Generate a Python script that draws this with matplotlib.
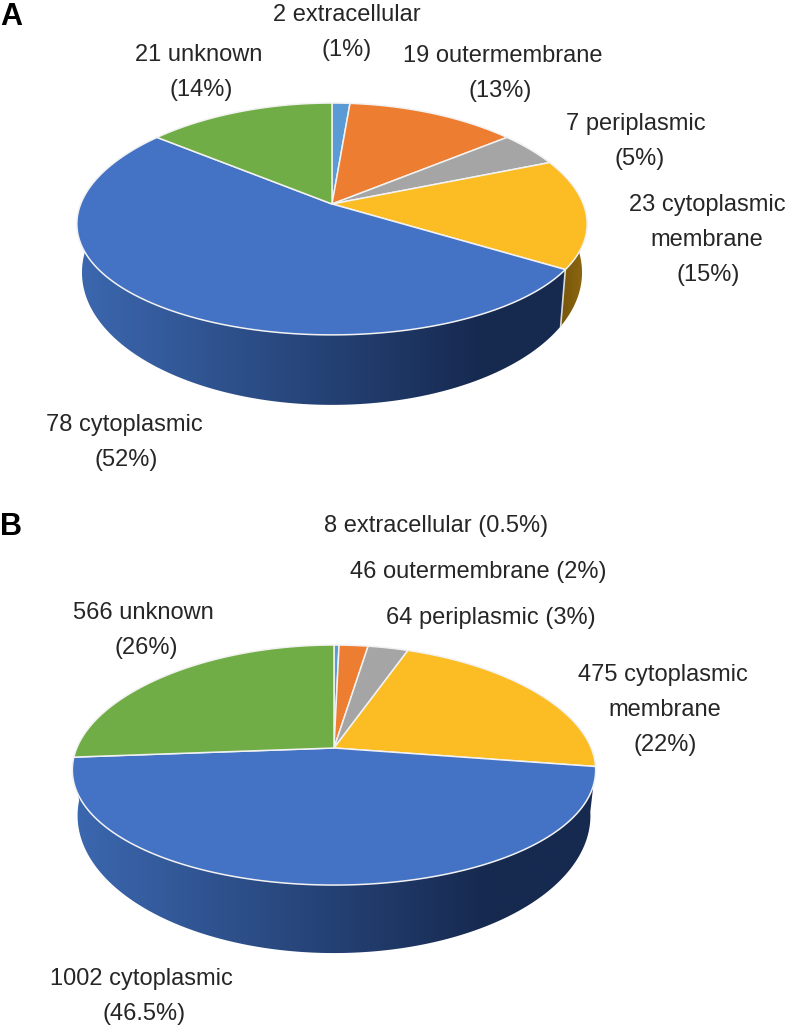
import numpy as np
import matplotlib
matplotlib.use("Agg")
import matplotlib.pyplot as plt
from matplotlib.patches import Polygon

plt.rcParams['font.family'] = ['Liberation Sans', 'DejaVu Sans']

categories = ["extracellular", "outermembrane", "periplasmic",
              "cytoplasmic membrane", "cytoplasmic", "unknown"]
counts_a = [2, 19, 7, 23, 78, 21]
counts_b = [8, 46, 64, 475, 1002, 566]
colors = ["#5b9bd5", "#ed7d31", "#a5a5a5", "#fbbc24", "#4472c4", "#70ad47"]

labels_a = ["2 extracellular\n(1%)", "19 outermembrane\n(13%)", "7 periplasmic\n(5%)",
            "23 cytoplasmic\nmembrane\n(15%)", "78 cytoplasmic\n(52%)", "21 unknown\n(14%)"]
labels_b = ["8 extracellular (0.5%)", "46 outermembrane (2%)", "64 periplasmic (3%)",
            "475 cytoplasmic\nmembrane\n(22%)", "1002 cytoplasmic\n(46.5%)", "566 unknown\n(26%)"]

# x of each line and y of the first line, in pixels
label_x_a = [[347, 347], [503, 500], [636, 640], [707, 707, 708], [124, 126], [199, 201]]
label_y_a = [13, 54, 122, 203, 423, 53]
label_x_b = [[436], [478], [491], [663, 665, 665], [141, 144], [143, 146]]
label_y_b = [524, 570, 616, 673, 977, 611]

fig = plt.figure(figsize=(7.86, 10.30), dpi=100)
ax = fig.add_axes([0, 0, 1, 1])
ax.set_xlim(0, 786)
ax.set_ylim(1030, 0)
ax.axis("off")


def project(t, cx, cy, rx, a, k):
    # t is clockwise from 12 o'clock, perspective squashes the far side
    u, v = np.sin(t), np.cos(t)
    w = 1 + k * v
    # the sides of the disc sit a little lower than a true ellipse
    return cx + rx * u / w, cy - a * v / w + 5 * u ** 2


def wall_bottom(t, x, y, cx, k, depth):
    w = 1 + k * np.cos(t)
    return cx + (x - cx) * 0.98, y + depth * ((1 - k) / w) ** 3


def gradient(poly, x0, x1, y0, y1, left, right):
    c0 = np.array(matplotlib.colors.to_rgb(left))
    c1 = np.array(matplotlib.colors.to_rgb(right))
    f = np.clip(np.linspace(0, 1, 256) * 1.25, 0, 1)[None, :, None]
    img = c0[None, None, :] * (1 - f) + c1[None, None, :] * f
    im = ax.imshow(img, extent=(x0, x1, y1, y0), aspect="auto", zorder=1)
    im.set_clip_path(poly)


def pie3d(counts, cx, cy, rx, a, k, depth, brown_wall):
    edges = np.cumsum([0] + counts) / sum(counts) * 2 * np.pi
    # slices near the back look a bit narrower than the plain projection gives
    edges = edges - 0.04 * np.sin(edges)
    xmin, xmax = cx - rx * 1.01, cx + rx * 1.01

    # side wall
    walls = [(4, "#3c68b0", "#16294f")]
    if brown_wall:
        walls.append((3, "#6a4d08", "#8a6510"))
    for i, left, right in walls:
        t = np.linspace(edges[i], edges[i + 1], 200)
        x, y = project(t, cx, cy, rx, a, k)
        xb, yb = wall_bottom(t, x, y, cx, k, depth)
        pts = np.r_[np.c_[x, y], np.c_[xb, yb][::-1]]
        poly = Polygon(pts, closed=True, fc="none", ec="none")
        ax.add_patch(poly)
        if i == 4:
            gradient(poly, xmin, xmax, cy, cy + a * 2 + depth, left, right)
        else:
            gradient(poly, x.min(), x.max(), cy, cy + a + depth, left, right)

    if brown_wall:
        xe, ye = project(edges[4], cx, cy, rx, a, k)
        xb, yb = wall_bottom(edges[4], xe, ye, cx, k, depth)
        ax.plot([xe, xb], [ye, yb], color="#d9d9d9", lw=1.2, zorder=2)

    # top face
    for i, c in enumerate(colors):
        t = np.linspace(edges[i], edges[i + 1], 200)
        x, y = project(t, cx, cy, rx, a, k)
        pts = np.r_[[[cx, cy]], np.c_[x, y]]
        ax.add_patch(Polygon(pts, closed=True, fc=c, ec="#f2f2f2", lw=1.1,
                             joinstyle="round", zorder=3))


def put_labels(labels, xs, ys):
    for lab, line_x, y in zip(labels, xs, ys):
        for n, line in enumerate(lab.split("\n")):
            ax.text(line_x[n], y + 8 + n * 35, line, ha="center", va="baseline",
                    fontsize=17, color="#262626", zorder=5)


pie3d(counts_a, 332, 204, 253, 114, 0.129, 70, True)
pie3d(counts_b, 334, 748, 259, 117.6, 0.142, 68, False)
put_labels(labels_a, label_x_a, label_y_a)
put_labels(labels_b, label_x_b, label_y_b)

ax.text(11, 17, "A", fontsize=22, fontweight="bold", ha="center", va="center", color="black")
ax.text(11, 527, "B", fontsize=22, fontweight="bold", ha="center", va="center", color="black")

ax.set_xlim(0, 786)
ax.set_ylim(1030, 0)
fig.savefig("out.png", dpi=100)
